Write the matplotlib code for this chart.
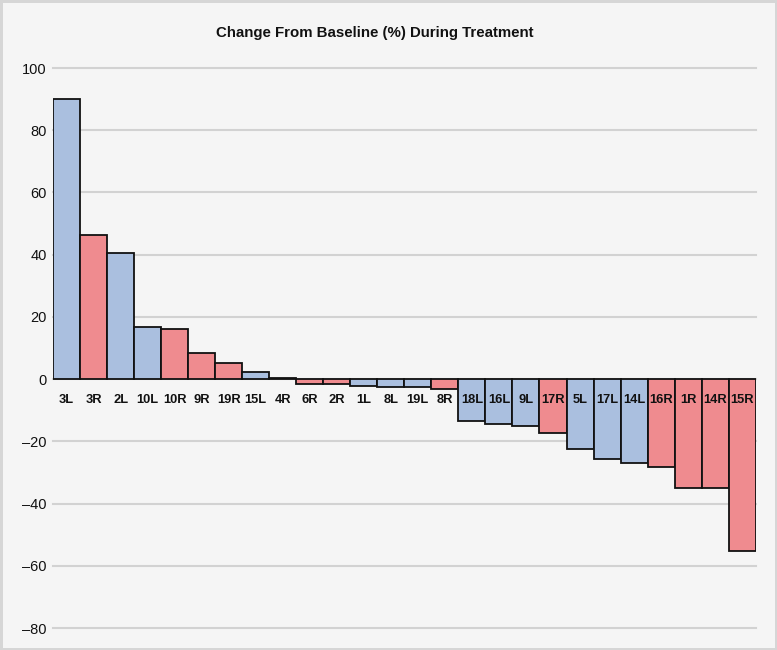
import matplotlib
matplotlib.use("Agg")
import matplotlib.pyplot as plt

labels = ["3L", "3R", "2L", "10L", "10R", "9R", "19R", "15L", "4R", "6R", "2R", "1L", "8L",
          "19L", "8R", "18L", "16L", "9L", "17R", "5L", "17L", "14L", "16R", "1R", "14R", "15R"]
values = [90.0, 46.4, 40.6, 16.7, 16.0, 8.5, 5.1, 2.3, 0.5, -1.5, -1.5, -2.1, -2.5,
          -2.5, -3.1, -13.6, -14.4, -15.2, -17.4, -22.4, -25.8, -27.0, -28.2, -35.1, -35.1, -55.2]
yticks = [100, 80, 60, 40, 20, 0, -20, -40, -60, -80]
title = "Change From Baseline (%) During Treatment"

blue = "#aabfdf"
red = "#ef8b8f"
colors = [red if l.endswith("R") else blue for l in labels]

plt.rcParams['font.family'] = ['Liberation Sans', 'DejaVu Sans']

fig = plt.figure(figsize=(7.77, 6.5), dpi=100, facecolor="#f5f5f5")
fig.patch.set_edgecolor("#d6d6d6")
fig.patch.set_linewidth(2.5)
ax = fig.add_axes([53/777, 22/650, (755.7-53)/777, 560/650])
ax.set_facecolor("#f5f5f5")

x = list(range(len(labels)))
ax.bar(x, values, width=1.0, color=colors, edgecolor="#111111", linewidth=1.3, zorder=3)
for xi, lab in zip(x, labels):
    ax.text(xi, -7.6, lab, ha="center", va="baseline", fontsize=9.3, fontweight="bold",
            color="#111111", zorder=4)

ax.set_xlim(-0.5, len(labels) - 0.5)
ax.set_ylim(-80, 100)
ax.set_yticks(yticks)
ax.set_yticklabels([("\u2013" + str(-t)) if t < 0 else str(t) for t in yticks], fontsize=10.5)
ax.set_xticks([])
ax.grid(axis="y", color="#d2d2d2", linewidth=1.5, zorder=0)
for t in ax.yaxis.get_gridlines():
    t.set_clip_on(False)
ax.tick_params(axis="y", length=0, pad=4.5, colors="#111111")
for s in ax.spines.values():
    s.set_visible(False)

fig.text(375/777, 1 - 33/650, title, ha="center", va="center", fontsize=10.8, fontweight="bold",
         color="#111111")

fig.savefig("out.png", dpi=100, facecolor=fig.get_facecolor(), edgecolor=fig.get_edgecolor())
